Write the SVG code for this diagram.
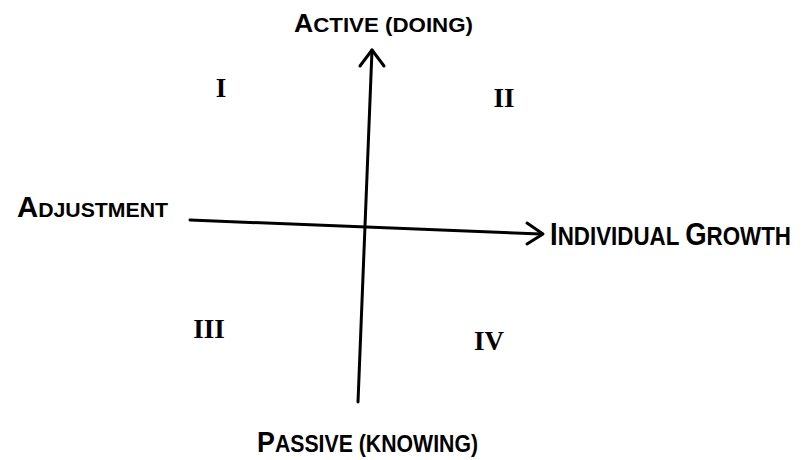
<svg xmlns="http://www.w3.org/2000/svg" width="803" height="460" viewBox="0 0 803 460">
<style>
.lbl{font-family:"Liberation Sans",Arial,sans-serif;font-weight:bold;fill:#000}
.num{font-family:"Liberation Serif","Times New Roman",serif;font-weight:bold;fill:#000}
.ax{stroke:#000;stroke-width:3;fill:none;stroke-linecap:round;stroke-linejoin:round}
</style>
<rect width="803" height="460" fill="#fff"/>
<g id="connectors">
<path class="ax" d="M358,402 L372,50"/>
<path class="ax" d="M360,66 L372,50 L384,66"/>
<path class="ax" d="M190,220 L541,234"/>
<path class="ax" d="M527,223 L543,234 L527,244"/>
</g>
<g id="active">
<text class="lbl" x="294" y="32" textLength="179" lengthAdjust="spacingAndGlyphs"><tspan font-size="25">A</tspan><tspan font-size="21">CTIVE (DOING)</tspan></text>
</g>
<g id="passive">
<text class="lbl" x="257" y="452" textLength="221" lengthAdjust="spacingAndGlyphs"><tspan font-size="29">P</tspan><tspan font-size="23">ASSIVE (KNOWING)</tspan></text>
</g>
<g id="adjustment">
<text class="lbl" x="17" y="217" textLength="151" lengthAdjust="spacingAndGlyphs"><tspan font-size="29">A</tspan><tspan font-size="21">DJUSTMENT</tspan></text>
</g>
<g id="growth" transform="translate(550,245) scale(0.86,1)">
<text class="lbl" x="0" y="0"><tspan font-size="32">I</tspan><tspan font-size="26">NDIVIDUAL </tspan><tspan font-size="32">G</tspan><tspan font-size="26">ROWTH</tspan></text>
</g>
<g id="q1"><text class="num" x="221" y="97" font-size="27" text-anchor="middle">I</text></g>
<g id="q2"><text class="num" x="504" y="107" font-size="27" text-anchor="middle">II</text></g>
<g id="q3"><text class="num" x="209" y="338" font-size="27" text-anchor="middle">III</text></g>
<g id="q4"><text class="num" x="489" y="350" font-size="27" text-anchor="middle">IV</text></g>
</svg>
